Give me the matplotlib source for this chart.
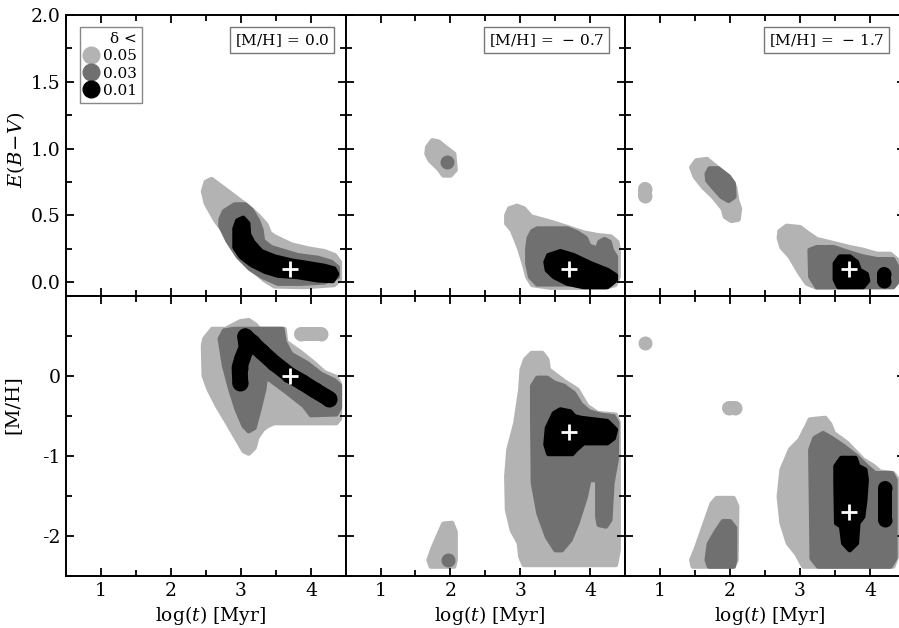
import matplotlib
matplotlib.use("Agg")
import matplotlib.pyplot as plt
from matplotlib.lines import Line2D
from matplotlib.ticker import MultipleLocator, FixedLocator, FormatStrFormatter

plt.rcParams['font.family'] = ['DejaVu Serif']
plt.rcParams['mathtext.fontset'] = 'dejavuserif'
plt.rcParams['axes.unicode_minus'] = False

# ---------------- data ----------------
delta_levels = ['0.05', '0.03', '0.01']
panel_mh = [0.0, -0.7, -1.7]
panel_labels = [r'[M/H]$\,=\,$0.0', r'[M/H]$\,=\,-\,$0.7', r'[M/H]$\,=\,-\,$1.7']
true_logt = 3.7
true_ebv = 0.1
true_mh = [0.0, -0.7, -1.7]
ebv_ticks = [0.0, 0.5, 1.0, 1.5, 2.0]
mh_ticks = [-2, -1, 0]

# --- top row: E(B-V) vs log(t); region outlines (x, y) ---
ebv_p1_light = [(2.46,0.68),(2.50,0.75),(2.58,0.77),(2.81,0.68),(3.10,0.565),(3.24,0.50),(3.36,0.43),
                (3.41,0.365),(3.48,0.34),(3.72,0.28),(3.96,0.25),(4.19,0.23),(4.34,0.20),(4.41,0.15),
                (4.41,0.02),(4.33,-0.02),(3.91,-0.035),(3.48,-0.03),(3.34,0.015),(3.17,0.09),(2.98,0.21),
                (2.81,0.34),(2.64,0.46),(2.50,0.59)]
ebv_p1_dark = [(2.71,0.47),(2.76,0.53),(2.91,0.58),(3.06,0.58),(3.15,0.54),(3.24,0.46),(3.29,0.39),
               (3.31,0.31),(3.43,0.26),(3.62,0.23),(3.81,0.20),(4.10,0.18),(4.29,0.15),(4.38,0.11),
               (4.38,0.04),(4.19,0.0),(3.86,-0.01),(3.53,-0.01),(3.31,0.04),(3.13,0.10),(2.96,0.19),
               (2.81,0.31),(2.71,0.42)]
ebv_p1_black = [(2.91,0.40),(2.95,0.46),(3.03,0.48),(3.10,0.44),(3.11,0.36),(3.17,0.30),(3.29,0.23),
                (3.48,0.19),(3.72,0.16),(3.96,0.14),(4.19,0.12),(4.33,0.10),(4.37,0.06),(4.31,0.01),
                (4.10,0.015),(3.81,0.04),(3.53,0.05),(3.34,0.08),(3.15,0.13),(3.0,0.19),(2.91,0.26)]

ebv_p2_light_a = [(1.67,1.01),(1.74,1.06),(1.83,1.05),(1.95,1.0),(2.05,0.96),(2.07,0.84),(2.0,0.80),
                  (1.90,0.80),(1.83,0.85),(1.71,0.91),(1.66,0.96)]
ebv_p2_dark_a_dot = [(1.95,0.90)]
ebv_p2_light_b = [(2.80,0.50),(2.84,0.55),(2.95,0.57),(3.05,0.55),(3.15,0.49),(3.43,0.45),(3.67,0.41),
                  (3.90,0.37),(4.10,0.35),(4.29,0.34),(4.38,0.30),(4.40,0.24),(4.40,0.04),(4.35,-0.02),
                  (4.20,-0.04),(3.43,-0.04),(3.17,-0.02),(3.10,0.04),(3.05,0.14),(2.98,0.26),(2.88,0.39),
                  (2.80,0.44)]
ebv_p2_dark_b = [(3.12,0.33),(3.17,0.38),(3.24,0.40),(3.67,0.40),(3.81,0.37),(3.93,0.33),(3.98,0.27),
                 (4.10,0.25),(4.13,0.30),(4.20,0.32),(4.27,0.30),(4.30,0.24),(4.36,0.19),(4.36,0.04),
                 (4.29,-0.015),(3.24,-0.015),(3.14,0.04),(3.10,0.14),(3.10,0.25)]
ebv_p2_black_b = [(3.36,0.15),(3.40,0.20),(3.57,0.23),(3.76,0.20),(4.0,0.14),(4.24,0.09),(4.36,0.05),
                  (4.36,0.015),(4.24,-0.035),(3.90,-0.035),(3.67,-0.01),(3.48,0.04),(3.38,0.09)]

ebv_p3_light_dot = [(0.79,0.645),(0.79,0.70)]
ebv_p3_light_a = [(1.45,0.86),(1.52,0.91),(1.67,0.92),(1.81,0.86),(1.98,0.79),(2.07,0.71),(2.10,0.61),
                  (2.14,0.55),(2.12,0.47),(2.02,0.46),(1.93,0.49),(1.90,0.55),(1.76,0.64),(1.62,0.71),
                  (1.50,0.79)]
ebv_p3_dark_a = [(1.67,0.81),(1.71,0.85),(1.83,0.85),(1.98,0.79),(2.05,0.74),(2.06,0.64),(1.98,0.61),
                 (1.88,0.64),(1.76,0.71),(1.68,0.76)]
ebv_p3_light_b = [(2.70,0.33),(2.71,0.38),(2.81,0.42),(3.0,0.41),(3.10,0.37),(3.24,0.32),(3.48,0.29),
                  (3.71,0.26),(3.90,0.24),(4.10,0.21),(4.29,0.21),(4.38,0.17),(4.41,0.11),(4.41,0.01),
                  (4.33,-0.035),(3.24,-0.04),(3.10,-0.01),(3.0,0.065),(2.86,0.19),(2.74,0.26)]
ebv_p3_dark_b = [(3.14,0.24),(3.24,0.26),(3.48,0.26),(3.71,0.22),(3.90,0.19),(4.10,0.17),(4.33,0.17),
                 (4.38,0.12),(4.38,0.0),(4.33,-0.035),(3.24,-0.035),(3.15,0.04)]
ebv_p3_black_b1 = [(3.50,0.14),(3.57,0.19),(3.71,0.19),(3.81,0.15),(3.85,0.09),(3.95,0.06),(3.97,0.01),
                   (3.90,-0.035),(3.55,-0.035),(3.50,0.02)]
ebv_p3_black_b2_dot = [(4.20,0.01),(4.20,0.06)]

# --- bottom row: [M/H] vs log(t) ---
mh_p1_light = [(2.46,0.375),(2.48,0.46),(2.59,0.58),(2.78,0.58),(2.99,0.675),(3.11,0.69),(3.21,0.63),
               (3.26,0.58),(3.62,0.58),(3.64,0.42),(3.85,0.29),(4.05,0.15),(4.19,0.04),(4.36,-0.02),
               (4.41,-0.10),(4.41,-0.54),(4.36,-0.59),(3.47,-0.59),(3.38,-0.625),(3.31,-0.67),(3.23,-0.77),
               (3.19,-0.90),(3.11,-0.97),(3.04,-0.94),(2.94,-0.79),(2.80,-0.58),(2.66,-0.375),(2.54,-0.17),
               (2.47,0.0)]
mh_p1_light_dot = [(3.86,0.52),(4.14,0.52)]
mh_p1_dark = [(2.70,0.46),(2.76,0.56),(2.90,0.58),(3.59,0.58),(3.62,0.42),(3.71,0.27),(3.95,0.15),
              (4.14,0.02),(4.33,-0.06),(4.41,-0.125),(4.41,-0.40),(4.36,-0.48),(4.0,-0.49),(3.90,-0.375),
              (3.66,-0.21),(3.43,-0.06),(3.35,-0.02),(3.33,-0.17),(3.26,-0.42),(3.19,-0.65),(3.11,-0.69),
              (3.04,-0.625),(2.94,-0.42),(2.85,-0.17),(2.76,0.125)]
mh_p1_black_track = [(2.99,-0.09),(2.98,0.10),(3.02,0.22),(3.08,0.35),(3.06,0.49),(3.15,0.42),(3.28,0.31),
                     (3.47,0.16),(3.69,0.01),(3.87,-0.08),(4.05,-0.18),(4.26,-0.29)]

mh_p2_light_a = [(1.69,-2.30),(1.72,-2.38),(2.05,-2.38),(2.07,-2.30),(2.07,-1.95),(2.02,-1.84),
                 (1.90,-1.85),(1.85,-1.95),(1.75,-2.15)]
mh_p2_dark_a_dot = [(1.96,-2.30)]
mh_p2_light_b = [(3.07,0.20),(3.16,0.28),(3.31,0.28),(3.38,0.20),(3.40,0.075),(3.62,-0.07),(3.81,-0.175),
                 (3.95,-0.38),(4.10,-0.47),(4.36,-0.49),(4.40,-0.59),(4.40,-2.175),(4.36,-2.36),(3.05,-2.36),
                 (3.0,-2.26),(2.98,-2.09),(2.88,-1.93),(2.81,-1.675),(2.80,-1.26),(2.83,-0.925),(2.93,-0.59),
                 (3.0,-0.175),(3.02,0.075)]
mh_p2_dark_b = [(3.17,-0.13),(3.24,-0.03),(3.38,-0.03),(3.48,-0.09),(3.62,-0.13),(3.76,-0.22),(3.86,-0.36),
                (3.98,-0.45),(4.14,-0.49),(4.33,-0.51),(4.38,-0.59),(4.37,-1.05),(4.31,-1.34),(4.28,-1.80),
                (4.22,-1.88),(4.12,-1.86),(4.10,-1.76),(4.10,-1.30),(3.98,-1.30),(3.93,-1.51),(3.81,-1.84),
                (3.71,-2.05),(3.59,-2.175),(3.50,-2.175),(3.38,-2.01),(3.26,-1.72),(3.18,-1.34),(3.17,-0.51)]
mh_p2_black_b = [(3.36,-0.86),(3.38,-0.655),(3.48,-0.47),(3.57,-0.425),(3.71,-0.45),(3.77,-0.51),
                 (3.86,-0.53),(4.05,-0.55),(4.24,-0.57),(4.36,-0.675),(4.33,-0.78),(4.24,-0.84),
                 (3.90,-0.84),(3.79,-0.925),(3.74,-0.975),(3.40,-0.975)]

mh_p3_light_dot1 = [(0.79,0.41)]
mh_p3_light_dot2 = [(1.98,-0.40),(2.07,-0.40)]
mh_p3_light_a = [(1.45,-2.30),(1.47,-2.38),(2.05,-2.38),(2.09,-2.30),(2.10,-1.63),(2.05,-1.53),
                 (1.81,-1.53),(1.74,-1.60),(1.62,-1.90),(1.52,-2.15)]
mh_p3_dark_a = [(1.67,-2.30),(1.70,-2.38),(2.05,-2.38),(2.07,-2.30),(2.07,-1.90),(2.0,-1.82),
                (1.90,-1.82),(1.80,-1.95),(1.70,-2.10)]
mh_p3_light_b = [(3.10,-0.63),(3.14,-0.55),(3.36,-0.53),(3.43,-0.61),(3.48,-0.72),(3.67,-0.84),(3.90,-1.05),
                 (4.05,-1.13),(4.14,-1.20),(4.33,-1.22),(4.38,-1.28),(4.38,-2.26),(4.33,-2.38),(3.05,-2.38),
                 (2.95,-2.22),(2.83,-2.09),(2.74,-1.84),(2.70,-1.51),(2.74,-1.175),(2.86,-0.925),(3.0,-0.80),
                 (3.07,-0.675)]
mh_p3_dark_b = [(3.15,-0.925),(3.21,-0.78),(3.33,-0.72),(3.45,-0.78),(3.62,-0.88),(3.81,-1.01),(3.95,-1.13),
                (4.07,-1.22),(4.31,-1.22),(4.36,-1.30),(4.36,-2.28),(4.29,-2.38),(3.26,-2.38),(3.17,-2.28)]
mh_p3_black_b1 = [(3.51,-1.13),(3.59,-1.03),(3.79,-1.03),(3.83,-1.13),(3.93,-1.175),(3.95,-1.30),(3.93,-1.55),
                  (3.90,-1.76),(3.83,-1.84),(3.81,-2.09),(3.71,-2.175),(3.62,-2.09),(3.59,-1.88),(3.52,-1.84),
                  (3.51,-1.34)]
mh_p3_black_b2_dot = [(4.21,-1.40),(4.21,-1.80)]

# ---------------- styling ----------------
LIGHT, DARK, BLACK = '#b3b3b3', '#707070', '#000000'
level_colors = [LIGHT, DARK, BLACK]
Z = {LIGHT: 1, DARK: 2, BLACK: 3}

W, H = 899, 628
fig = plt.figure(figsize=(W / 100, H / 100), dpi=100)
lefts = [66, 345.5, 625]
tops = [15, 295.5]
pw, ph = 280, 280.5


def make_ax(left, top):
    return fig.add_axes([left / W, 1 - (top + ph) / H, pw / W, ph / H])


def region(ax, pts, c):
    xs, ys = zip(*pts)
    ax.fill(xs, ys, fc=c, ec=c, lw=3.5, joinstyle='round', zorder=Z[c])


def dots(ax, pts, c, d_px=15):
    xs, ys = zip(*pts)
    w = d_px * 0.72
    ax.plot(xs, ys, color=c, lw=w, marker='o', ms=w, mew=0,
            solid_capstyle='round', zorder=Z[c])


top_content = [
    [('r', ebv_p1_light, LIGHT), ('r', ebv_p1_dark, DARK), ('r', ebv_p1_black, BLACK)],
    [('r', ebv_p2_light_a, LIGHT), ('d', ebv_p2_dark_a_dot, DARK), ('r', ebv_p2_light_b, LIGHT),
     ('r', ebv_p2_dark_b, DARK), ('r', ebv_p2_black_b, BLACK)],
    [('d', ebv_p3_light_dot, LIGHT), ('r', ebv_p3_light_a, LIGHT), ('r', ebv_p3_dark_a, DARK),
     ('r', ebv_p3_light_b, LIGHT), ('r', ebv_p3_dark_b, DARK), ('r', ebv_p3_black_b1, BLACK),
     ('d', ebv_p3_black_b2_dot, BLACK)],
]
bot_content = [
    [('r', mh_p1_light, LIGHT), ('d', mh_p1_light_dot, LIGHT), ('r', mh_p1_dark, DARK),
     ('t', mh_p1_black_track, BLACK)],
    [('r', mh_p2_light_a, LIGHT), ('d', mh_p2_dark_a_dot, DARK), ('r', mh_p2_light_b, LIGHT),
     ('r', mh_p2_dark_b, DARK), ('r', mh_p2_black_b, BLACK)],
    [('d', mh_p3_light_dot1, LIGHT), ('d', mh_p3_light_dot2, LIGHT), ('r', mh_p3_light_a, LIGHT),
     ('r', mh_p3_dark_a, DARK), ('r', mh_p3_light_b, LIGHT), ('r', mh_p3_dark_b, DARK),
     ('r', mh_p3_black_b1, BLACK), ('d', mh_p3_black_b2_dot, BLACK)],
]


def draw(ax, items):
    for kind, pts, c in items:
        if kind == 'r':
            region(ax, pts, c)
        elif kind == 'd':
            dots(ax, pts, c, 14)
        else:
            dots(ax, pts, c, 16)


def style(ax):
    ax.set_xlim(0.5, 4.5)
    ax.xaxis.set_major_locator(MultipleLocator(1))
    ax.xaxis.set_minor_locator(MultipleLocator(0.5))
    ax.tick_params(which='both', direction='in', top=True, right=True, width=1.3,
                   labelsize=13.5, pad=4)
    ax.tick_params(which='major', length=6)
    ax.tick_params(which='minor', length=4.5)
    for s in ax.spines.values():
        s.set_linewidth(1.4)


label_x = [0.941, 0.925, 0.926]

for i in range(3):
    # top row
    ax = make_ax(lefts[i], tops[0])
    draw(ax, top_content[i])
    ax.plot([true_logt], [true_ebv], marker='+', color='white', ms=11, mew=2, zorder=6)
    style(ax)
    ax.set_ylim(-0.1, 2.0)
    ax.yaxis.set_major_locator(FixedLocator(ebv_ticks))
    ax.yaxis.set_minor_locator(MultipleLocator(0.25))
    ax.yaxis.set_major_formatter(FormatStrFormatter('%.1f'))
    ax.tick_params(labelbottom=False)
    ax.text(label_x[i], 0.94, panel_labels[i], transform=ax.transAxes, ha='right', va='top',
            fontsize=11, zorder=10,
            bbox=dict(boxstyle='square,pad=0.3', fc='white', ec='#777777', lw=1))
    if i == 0:
        ax.set_ylabel(r'$E(B\!-\!V)$', fontsize=14)
        ax.yaxis.set_label_coords(-0.14, 0.52)
        handles = [Line2D([], [], ls='none', marker='o', ms=12, mfc=c, mec=c) for c in level_colors]
        leg = ax.legend(handles, delta_levels, title='δ <', loc='upper left',
                        bbox_to_anchor=(0.05, 0.957), borderaxespad=0, fontsize=11,
                        title_fontsize=11, fancybox=False, edgecolor='#888888', framealpha=1,
                        handlelength=0.8, handletextpad=0.35, labelspacing=0.2, borderpad=0.35,
                        alignment='right')
        leg.get_frame().set_linewidth(1)
    else:
        ax.tick_params(labelleft=False)

    # bottom row
    ax = make_ax(lefts[i], tops[1])
    draw(ax, bot_content[i])
    ax.plot([true_logt], [true_mh[i]], marker='+', color='white', ms=11, mew=2, zorder=6)
    style(ax)
    ax.set_ylim(-2.5, 1.0)
    ax.yaxis.set_major_locator(FixedLocator(mh_ticks))
    ax.yaxis.set_minor_locator(MultipleLocator(0.5))
    ax.yaxis.set_major_formatter(FormatStrFormatter('%d'))
    ax.set_xlabel(r'log($t$) [Myr]', fontsize=13.5)
    ax.xaxis.set_label_coords(0.515, -0.1)
    if i == 0:
        ax.set_ylabel('[M/H]', fontsize=14)
        ax.yaxis.set_label_coords(-0.16, 0.61)
    else:
        ax.tick_params(labelleft=False)

fig.savefig('out.png', dpi=100)
